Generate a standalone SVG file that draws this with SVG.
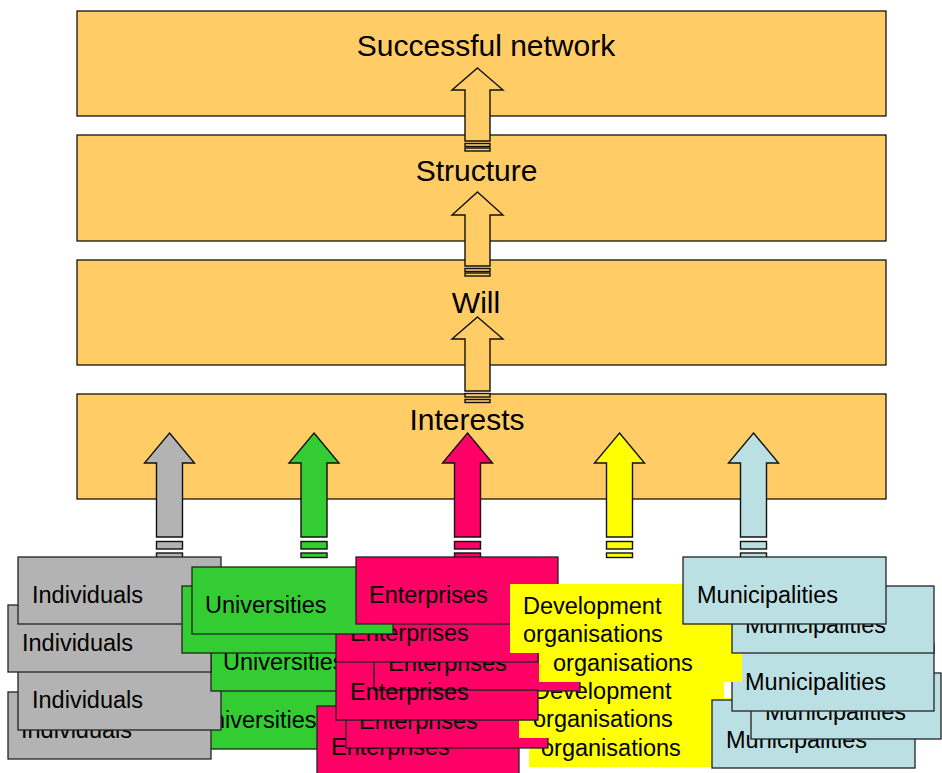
<svg xmlns="http://www.w3.org/2000/svg" width="942" height="773" viewBox="0 0 942 773">
<style>
.lvl{fill:#FFCC66;stroke:#000;stroke-width:1.2}
.lt{font-family:"Liberation Sans",Arial,sans-serif;font-size:30px;fill:#000;text-anchor:middle}
.ct{font-family:"Liberation Sans",Arial,sans-serif;font-size:23.5px;fill:#000}
.card{stroke:#222;stroke-width:1.3}
.edge{fill:none;stroke:#222;stroke-width:1.3}
.gray{fill:#B3B3B3}
.green{fill:#33CC33}
.red{fill:#FF0066}
.yellow{fill:#FFFF00}
.blue{fill:#BBE0E3}
.arr{stroke:#111;stroke-width:1.4;stroke-linejoin:miter}
.oa{fill:#FFCC66}
</style>
<rect width="942" height="773" fill="#fff"/>
<g id="level-successful-network"><rect class="lvl" x="77" y="11" width="809" height="105"/><text class="lt" x="486" y="56">Successful network</text></g>
<g id="level-structure"><rect class="lvl" x="77" y="135" width="809" height="106"/><text class="lt" x="476.5" y="181">Structure</text></g>
<g id="level-will"><rect class="lvl" x="77" y="260" width="809" height="105"/><text class="lt" x="476" y="313">Will</text></g>
<g id="level-interests"><rect class="lvl" x="77" y="394" width="809" height="105"/><text class="lt" x="467" y="430">Interests</text></g>
<g id="connectors">
<path class="arr oa" d="M477.5,68 L503,90 L490,90 L490,141 L465,141 L465,90 L452,90 Z"/>
<rect class="arr oa" x="465" y="143.5" width="25" height="3"/><rect class="arr oa" x="465" y="148" width="25" height="3"/>
<path class="arr oa" d="M477.5,192 L503,215 L490,215 L490,266 L465,266 L465,215 L452,215 Z"/>
<rect class="arr oa" x="465" y="268.5" width="25" height="3"/><rect class="arr oa" x="465" y="273" width="25" height="3"/>
<path class="arr oa" d="M477.5,317 L503,339 L490,339 L490,391 L465,391 L465,339 L452,339 Z"/>
<rect class="arr oa" x="465" y="393.5" width="25" height="3.5"/><rect class="arr oa" x="465" y="399.5" width="25" height="3"/>
<path class="arr gray" d="M169.5,433 L194.5,463 L182.5,463 L182.5,537 L156.5,537 L156.5,463 L144.5,463 Z"/>
<rect class="arr gray" x="156.5" y="541.5" width="26" height="7.5"/><rect class="arr gray" x="156.5" y="553" width="26" height="5"/>
<path class="arr green" d="M314,433 L339,463 L327,463 L327,537 L301,537 L301,463 L289,463 Z"/>
<rect class="arr green" x="301" y="541.5" width="26" height="7.5"/><rect class="arr green" x="301" y="553" width="26" height="4.5"/>
<path class="arr red" d="M467.5,433 L492.5,463 L480.5,463 L480.5,537 L454.5,537 L454.5,463 L442.5,463 Z"/>
<rect class="arr red" x="454.5" y="541.5" width="26" height="7.5"/><rect class="arr red" x="454.5" y="553" width="26" height="5"/>
<path class="arr yellow" d="M619.5,433 L644.5,463 L632.5,463 L632.5,537 L606.5,537 L606.5,463 L594.5,463 Z"/>
<rect class="arr yellow" x="606.5" y="541.5" width="26" height="7.5"/><rect class="arr yellow" x="606.5" y="553" width="26" height="4.5"/>
<path class="arr blue" d="M753.5,433 L778.5,463 L766.5,463 L766.5,537 L740.5,537 L740.5,463 L728.5,463 Z"/>
<rect class="arr blue" x="740.5" y="541.5" width="26" height="7.5"/><rect class="arr blue" x="740.5" y="553" width="26" height="5"/>
</g>
<g id="universities-4"><rect class="card green" x="182" y="682" width="203" height="67"/><text class="ct" x="195" y="728">Universities</text></g>
<g id="individuals-4"><rect class="card gray" x="8" y="692" width="203" height="67"/><text class="ct" x="21" y="738">Individuals</text></g>
<g id="individuals-3"><rect class="card gray" x="18" y="663" width="203" height="67"/><text class="ct" x="32" y="708">Individuals</text></g>
<g id="universities-3"><rect class="card green" x="211" y="624" width="203" height="67"/><text class="ct" x="223" y="670">Universities</text></g>
<g id="individuals-2"><rect class="card gray" x="8" y="605" width="203" height="67"/><text class="ct" x="22" y="651">Individuals</text></g>
<g id="individuals-1"><rect class="card gray" x="18" y="557" width="203" height="67"/><text class="ct" x="32" y="603">Individuals</text></g>
<g id="universities-2"><rect class="card green" x="182" y="586" width="203" height="67"/><text class="ct" x="195" y="632">Universities</text></g>
<g id="enterprises-6"><rect class="card red" x="317" y="706" width="202" height="70"/><text class="ct" x="331" y="755">Enterprises</text></g>
<g id="development-4"><rect class="yellow" x="529" y="698" width="203" height="69"/><text class="ct" x="541" y="728">Development</text><text class="ct" x="541" y="756">organisations</text></g>
<g id="enterprises-5"><rect class="card red" x="346" y="681" width="202" height="67"/><text class="ct" x="359" y="729">Enterprises</text></g>
<g id="development-3"><rect class="yellow" x="519" y="669" width="205" height="69"/><text class="ct" x="533" y="699">Development</text><text class="ct" x="533" y="727">organisations</text></g>
<g id="enterprises-3"><rect class="card red" x="374" y="624" width="206" height="67"/><text class="ct" x="388" y="671">Enterprises</text></g>
<g id="enterprises-4"><polygon class="red" points="336,662 374,662 374,678 538,678 538,720 336,720"/><path class="edge" d="M336,662 V720 H538 V690 M374,662 V690 H538"/><text class="ct" x="350" y="700">Enterprises</text></g>
<g id="municipalities-5"><rect class="card blue" x="712" y="700" width="203" height="68"/><text class="ct" x="726" y="748">Municipalities</text></g>
<g id="municipalities-4"><rect class="card blue" x="751" y="673" width="190" height="66"/><text class="ct" x="765" y="720">Municipalities</text></g>
<g id="municipalities-3"><rect class="card blue" x="732" y="644" width="202" height="67"/><text class="ct" x="745" y="690">Municipalities</text></g>
<g id="development-2"><rect class="yellow" x="539" y="613" width="203" height="69"/><text class="ct" x="553" y="643">Development</text><text class="ct" x="553" y="671">organisations</text></g>
<g id="municipalities-2"><rect class="card blue" x="732" y="586" width="202" height="67"/><text class="ct" x="745" y="633">Municipalities</text></g>
<g id="enterprises-2"><rect class="card red" x="336" y="595" width="202" height="67"/><text class="ct" x="350" y="641">Enterprises</text></g>
<g id="universities-1"><rect class="card green" x="192" y="567" width="201" height="67"/><text class="ct" x="205" y="613">Universities</text></g>
<g id="enterprises-1"><rect class="card red" x="356" y="557" width="202" height="67"/><text class="ct" x="369" y="603">Enterprises</text></g>
<g id="development-1"><rect class="yellow" x="510" y="584" width="203" height="69"/><text class="ct" x="523" y="614">Development</text><text class="ct" x="523" y="642">organisations</text></g>
<g id="municipalities-1"><rect class="card blue" x="683" y="557" width="203" height="67"/><text class="ct" x="697" y="603">Municipalities</text></g>
</svg>
